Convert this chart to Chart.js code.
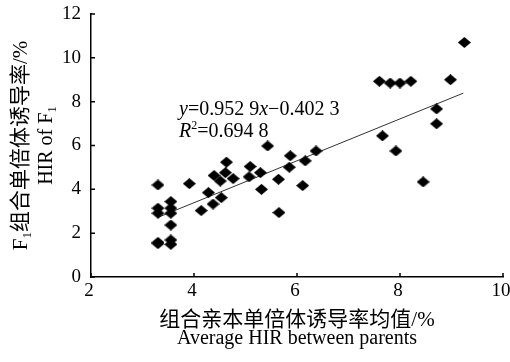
<!DOCTYPE html>
<html>
<head>
<meta charset="utf-8">
<script src="https://cdn.jsdelivr.net/npm/chart.js@4/dist/chart.umd.min.js"></script>
<style>
  html, body { margin: 0; padding: 0; background: #fff; }
  #wrap { width: 510px; height: 362px; }
</style>
</head>
<body>
<div id="wrap"><canvas id="hirChart" width="510" height="362"></canvas></div>
<script>
const parentHIR = [9.25, 8.98, 7.60, 7.81, 8.00, 8.21, 8.71, 8.71, 7.66, 7.92, 8.45,
  6.37, 6.16, 5.87, 5.85, 6.11, 5.64, 5.65, 5.43, 5.29, 5.31, 5.09, 5.07,
  4.63, 4.61, 4.76, 4.39, 4.51, 4.28, 4.53, 4.37, 4.14, 3.91,
  3.30, 3.30, 3.30, 3.30, 3.30, 3.55, 3.55, 3.55, 3.55, 3.55, 3.55];
const f1HIR = [10.70, 9.00, 8.93, 8.85, 8.85, 8.93, 7.67, 6.99, 6.44, 5.75, 4.34,
  5.75, 5.30, 5.53, 5.01, 4.17, 4.46, 2.94, 5.98, 4.76, 4.00, 5.04, 4.57,
  5.24, 4.76, 4.49, 4.63, 4.38, 3.85, 3.62, 3.33, 3.03, 4.26,
  4.20, 3.14, 2.91, 1.58, 1.52, 3.44, 3.14, 2.91, 2.37, 1.69, 1.49];
const trendX = [3.30, 9.23];
const trendY = [2.72, 8.39];
const xTicks = [2, 4, 6, 8, 10];
const yTicks = [0, 2, 4, 6, 8, 10, 12];

const serif = '"Liberation Serif", "Times New Roman", "Noto Sans CJK SC", serif';

// flattened black diamond used as the marker
const diamond = document.createElement("canvas");
diamond.width = 13;
diamond.height = 11;
const dctx = diamond.getContext("2d");
dctx.fillStyle = "#000";
dctx.beginPath();
dctx.moveTo(6.5, 0);
dctx.lineTo(13, 5.5);
dctx.lineTo(6.5, 11);
dctx.lineTo(0, 5.5);
dctx.closePath();
dctx.fill();

const points = parentHIR.map((x, i) => ({ x: x, y: f1HIR[i] }));
const trend = trendX.map((x, i) => ({ x: x, y: trendY[i] }));

// inward ticks, axis titles and the fitted equation
const decorPlugin = {
  id: "decor",
  afterDraw(chart) {
    const ctx = chart.ctx;
    const area = chart.chartArea;
    const xs = chart.scales.x;
    const ys = chart.scales.y;
    ctx.save();
    ctx.strokeStyle = "#000";
    ctx.lineWidth = 1.5;
    ctx.beginPath();
    xTicks.forEach((v) => {
      const px = xs.getPixelForValue(v);
      ctx.moveTo(px, area.bottom);
      ctx.lineTo(px, area.bottom - 4);
    });
    yTicks.forEach((v) => {
      const py = ys.getPixelForValue(v);
      ctx.moveTo(area.left, py);
      ctx.lineTo(area.left + 4, py);
    });
    ctx.stroke();

    ctx.fillStyle = "#000";
    ctx.textBaseline = "alphabetic";

    // x title
    const cx = (area.left + area.right) / 2;
    ctx.textAlign = "center";
    ctx.font = "21px " + serif;
    ctx.fillText("组合亲本单倍体诱导率均值/%", cx, area.bottom + 49);
    ctx.font = "20px " + serif;
    ctx.fillText("Average HIR between parents", cx, area.bottom + 67);

    // y title, rotated, two lines
    const cy = (area.top + area.bottom) / 2;
    const drawSubLine = (parts, baseX) => {
      ctx.save();
      ctx.translate(baseX, cy);
      ctx.rotate(-Math.PI / 2);
      ctx.textAlign = "left";
      let total = 0;
      parts.forEach((p) => {
        ctx.font = p.font;
        total += ctx.measureText(p.text).width;
      });
      let pos = -total / 2;
      parts.forEach((p) => {
        ctx.font = p.font;
        ctx.fillText(p.text, pos, p.dy || 0);
        pos += ctx.measureText(p.text).width;
      });
      ctx.restore();
    };
    drawSubLine([
      { text: "F", font: "21px " + serif },
      { text: "1", font: "13px " + serif, dy: 4 },
      { text: "组合单倍体诱导率/%", font: "21px " + serif }
    ], 27);
    drawSubLine([
      { text: "HIR of F", font: "20px " + serif },
      { text: "1", font: "13px " + serif, dy: 4 }
    ], 52);

    // regression equation
    const ex = xs.getPixelForValue(3.71);
    const ey = ys.getPixelForValue(7.4);
    const eq = [
      { text: "y", font: "italic 20px " + serif },
      { text: "=0.952 9", font: "20px " + serif },
      { text: "x", font: "italic 20px " + serif },
      { text: "\u22120.402 3", font: "20px " + serif }
    ];
    ctx.textAlign = "left";
    let pos = ex;
    eq.forEach((p) => {
      ctx.font = p.font;
      ctx.fillText(p.text, pos, ey);
      pos += ctx.measureText(p.text).width;
    });
    pos = ex;
    const r2 = [
      { text: "R", font: "italic 20px " + serif, dy: 0 },
      { text: "2", font: "12px " + serif, dy: -8 },
      { text: "=0.694 8", font: "20px " + serif, dy: 0 }
    ];
    r2.forEach((p) => {
      ctx.font = p.font;
      ctx.fillText(p.text, pos, ey + 22 + p.dy);
      pos += ctx.measureText(p.text).width;
    });
    ctx.restore();
  }
};

new Chart(document.getElementById("hirChart"), {
  type: "scatter",
  data: {
    datasets: [
      {
        label: "F1",
        data: points,
        pointStyle: diamond,
        pointRadius: 6,
        pointHoverRadius: 6
      },
      {
        type: "line",
        label: "trend",
        data: trend,
        borderColor: "#333",
        borderWidth: 1,
        pointRadius: 0,
        fill: false
      }
    ]
  },
  options: {
    responsive: false,
    animation: false,
    events: [],
    layout: { padding: { left: 0, top: 14, right: 7, bottom: 0 } },
    plugins: {
      legend: { display: false },
      tooltip: { enabled: false }
    },
    scales: {
      x: {
        type: "linear",
        min: 2,
        max: 10,
        afterBuildTicks: (scale) => {
          scale.ticks = xTicks.map((v) => ({ value: v }));
        },
        afterFit: (scale) => {
          scale.height = 85;
          scale.paddingLeft = 0;
          scale.paddingRight = 0;
        },
        grid: { display: false, drawTicks: false },
        border: { display: true, color: "#000", width: 1.5 },
        ticks: {
          color: "#000",
          padding: 3,
          labelOffset: -2,
          maxRotation: 0,
          font: { family: serif, size: 19 }
        }
      },
      y: {
        type: "linear",
        min: 0,
        max: 12,
        afterBuildTicks: (scale) => {
          scale.ticks = yTicks.map((v) => ({ value: v }));
        },
        afterFit: (scale) => {
          scale.width = 91;
          scale.paddingTop = 0;
          scale.paddingBottom = 0;
        },
        grid: { display: false, drawTicks: false },
        border: { display: true, color: "#000", width: 1.5 },
        ticks: {
          color: "#000",
          padding: 10,
          font: { family: serif, size: 19 }
        }
      }
    }
  },
  plugins: [decorPlugin]
});
</script>
</body>
</html>
